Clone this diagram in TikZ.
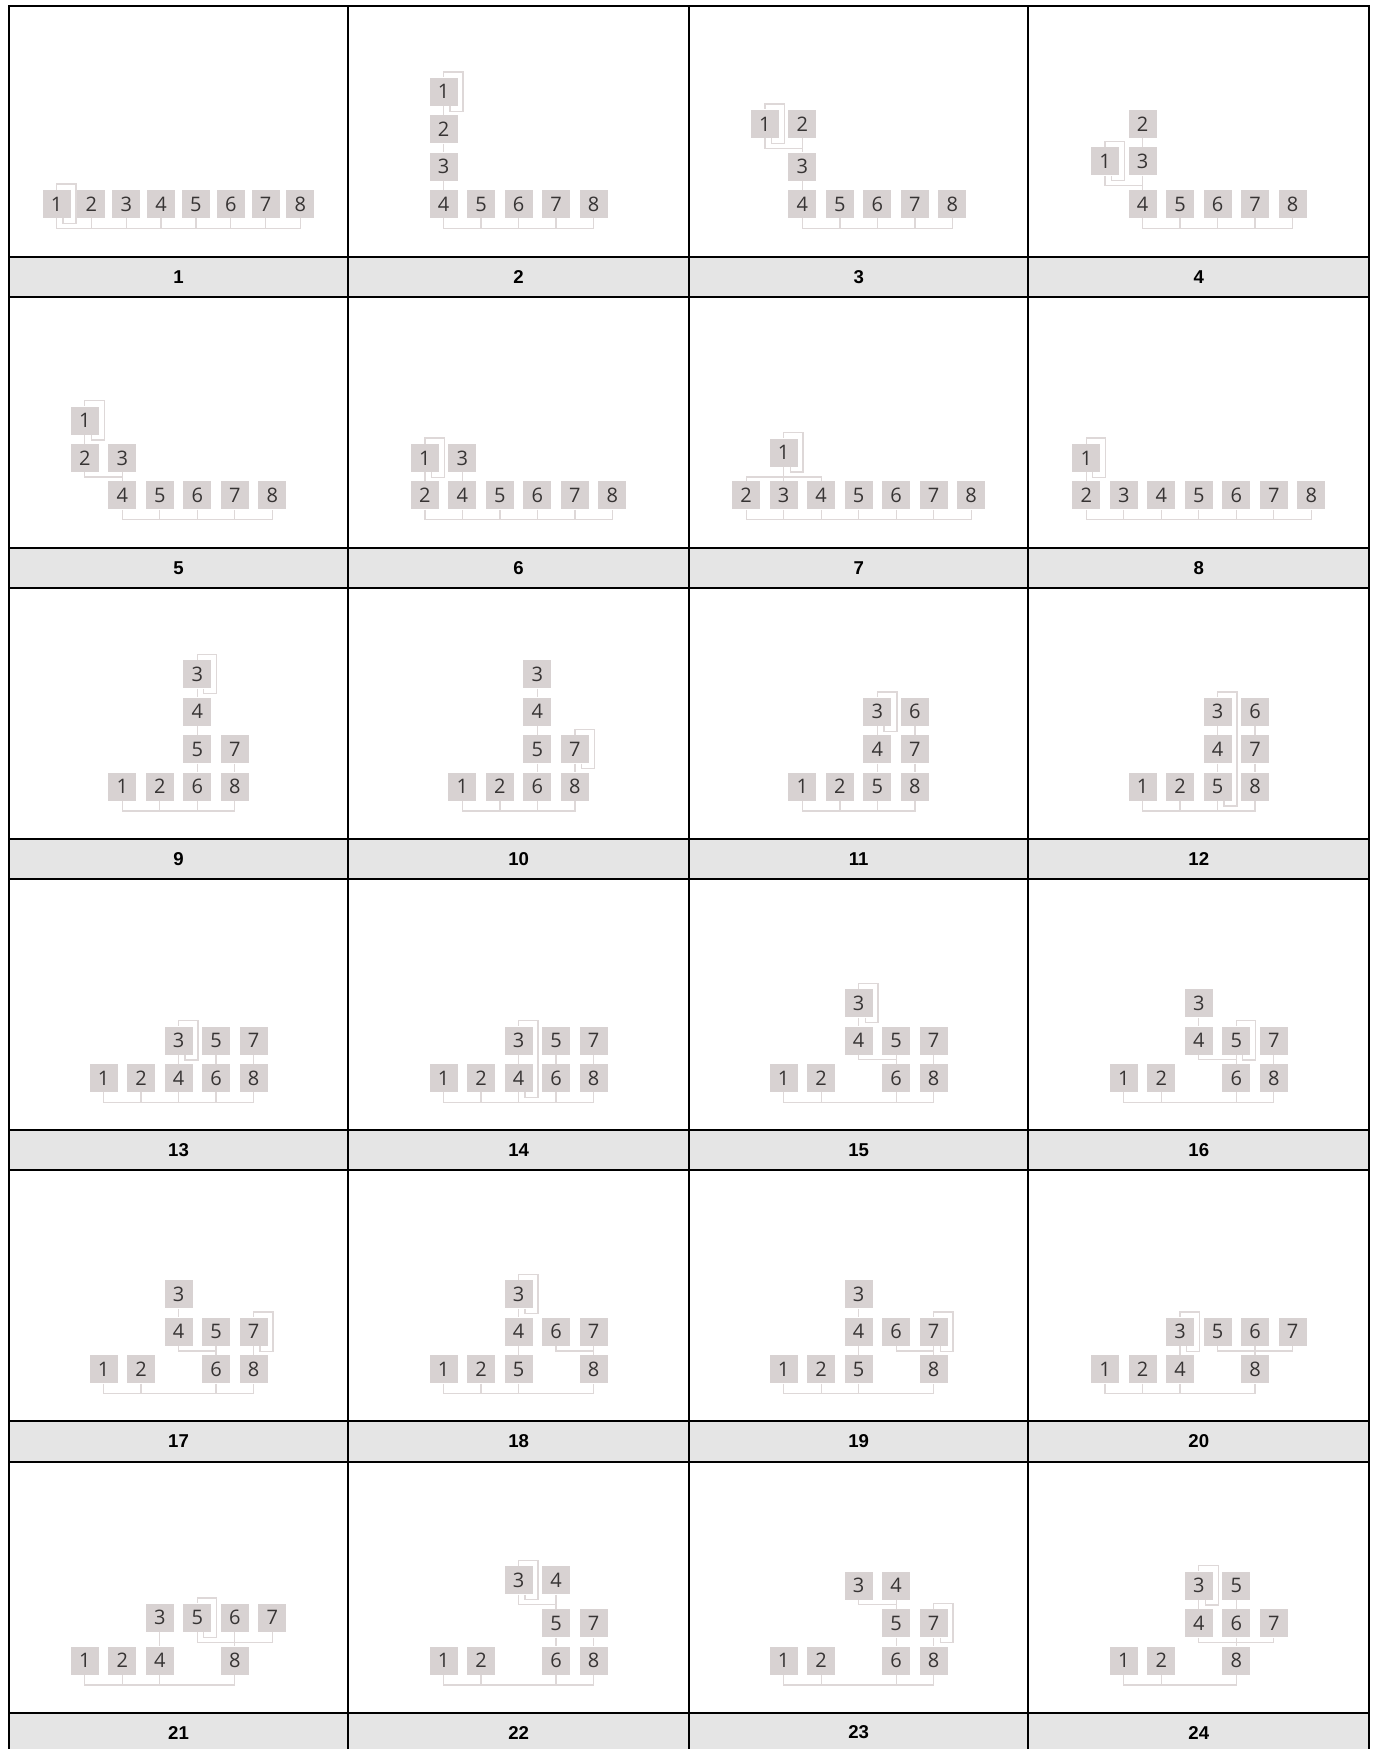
\documentclass[tikz,border=0pt]{standalone}
\usepackage{fontspec}
\setmainfont{Liberation Sans}
\newfontfamily\digitfont{Open Sans}
\usetikzlibrary{positioning, calc}
\definecolor{boxgrey}{RGB}{216, 210, 210}
\definecolor{digitgrey}{RGB}{55, 52, 52}
\definecolor{linkgrey}{RGB}{222, 216, 216}
\definecolor{capgrey}{RGB}{229, 229, 229}
\tikzset{
  blk/.style      = {rectangle, fill=boxgrey, minimum size=14pt, inner sep=0pt,
                     font=\digitfont\fontsize{10}{12}\selectfont, text=digitgrey},
  link/.style     = {draw=linkgrey, line width=0.65pt},
  loopln/.style   = {draw=linkgrey, line width=0.65pt},
  gridline/.style = {draw=black, line width=1pt},
  caplabel/.style = {font=\bfseries\fontsize{9.3}{11}\selectfont},
  cell/.style 2 args = {shift={({178.5+340.1*#1},{204+291.3*#2})}, x=18.75pt, y=18.7pt},
}
% boxes of one step: label/x/y
\newcommand{\placeboxes}[2]{\foreach \lab/\gx/\gy in {#2} {\node[blk] (s#1-\lab) at (\gx,\gy) {\lab};}}
\newcommand{\vlink}[2]{\draw[link] (#1.south) -- (#2.north);}
\newcommand{\llink}[3][2.35pt]{\draw[link] (#2.south) -- ++(0,-#1) -| (#3.north);}
\newcommand{\rootbus}[1]{\foreach \n [count=\i, remember=\n as \lastn] in {#1} {\ifnum\i>1 \draw[link] (\lastn.south) -- ++(0,-5pt) -| (\n.south);\fi}}
\newcommand{\selfloop}[2]{\draw[loopln] ([xshift=3.25pt]#2.south) -- ++(0,-2.5pt) -| ([xshift=2.5pt,yshift=2.75pt]#1.north east) -| (#1.north);}

\begin{document}
\begin{tikzpicture}[x=0.5pt, y=-0.5pt]
\useasboundingbox (0,0) rectangle (1377,1749);

% ==================== table ====================
\foreach \k in {0,...,5} {
  \fill[capgrey] (8.9,{257+291.1*\k}) rectangle (1369.3,{297.1+291.1*\k});
}
\draw[gridline] (8.9,6) rectangle (1369.3,1752.6);
\foreach \xx in {348.2,688.5,1027.7} \draw[gridline] (\xx,6) -- (\xx,1752.6);
\foreach \k in {1,...,5} \draw[gridline] (8.9,{6+291.1*\k}) -- (1369.3,{6+291.1*\k});
\foreach \k in {0,...,5} \draw[gridline] (8.9,{257+291.1*\k}) -- (1369.3,{257+291.1*\k});

\foreach \k in {0,...,5} {
  \foreach \j in {0,...,3} {
    \pgfmathtruncatemacro{\num}{4*\k+\j+1}
    \node[caplabel] (c\num) at ({178.5+340.1*\j},{277+291.1*\k}) {\num};
  }
}

% ==================== 1 ====================
\begin{scope}[cell={0}{0}, x=17.42pt]
  \placeboxes{1}{1/-3.5/0, 2/-2.5/0, 3/-1.5/0, 4/-0.5/0, 5/0.5/0, 6/1.5/0, 7/2.5/0, 8/3.5/0}
  \rootbus{s1-1,s1-2,s1-3,s1-4,s1-5,s1-6,s1-7,s1-8}
  \selfloop{s1-1}{s1-1}
\end{scope}

% ==================== 2 ====================
\begin{scope}[cell={1}{0}]
  \placeboxes{2}{1/-2/3, 2/-2/2, 3/-2/1, 4/-2/0, 5/-1/0, 6/0/0, 7/1/0, 8/2/0}
  \vlink{s2-1}{s2-2} \vlink{s2-2}{s2-3} \vlink{s2-3}{s2-4}
  \rootbus{s2-4,s2-5,s2-6,s2-7,s2-8}
  \selfloop{s2-1}{s2-1}
\end{scope}

% ==================== 3 ====================
\begin{scope}[cell={2}{0}]
  \placeboxes{3}{1/-2.5/2.142, 2/-1.5/2.142, 3/-1.5/1, 4/-1.5/0, 5/-0.5/0, 6/0.5/0, 7/1.5/0, 8/2.5/0}
  \llink[5pt]{s3-1}{s3-3} \vlink{s3-2}{s3-3} \vlink{s3-3}{s3-4}
  \rootbus{s3-4,s3-5,s3-6,s3-7,s3-8}
  \selfloop{s3-1}{s3-1}
\end{scope}

% ==================== 4 ====================
\begin{scope}[cell={3}{0}]
  \placeboxes{4}{2/-1.5/2.142, 1/-2.5/1.142, 3/-1.5/1.142, 4/-1.5/0, 5/-0.5/0, 6/0.5/0, 7/1.5/0, 8/2.5/0}
  \vlink{s4-2}{s4-3} \vlink{s4-3}{s4-4} \llink[5pt]{s4-1}{s4-4}
  \rootbus{s4-4,s4-5,s4-6,s4-7,s4-8}
  \selfloop{s4-1}{s4-1}
\end{scope}

% ==================== 5 ====================
\begin{scope}[cell={0}{1}]
  \placeboxes{5}{1/-2.5/2, 2/-2.5/1, 3/-1.5/1, 4/-1.5/0, 5/-0.5/0, 6/0.5/0, 7/1.5/0, 8/2.5/0}
  \vlink{s5-1}{s5-2} \llink{s5-2}{s5-4} \vlink{s5-3}{s5-4}
  \rootbus{s5-4,s5-5,s5-6,s5-7,s5-8}
  \selfloop{s5-1}{s5-1}
\end{scope}

% ==================== 6 ====================
\begin{scope}[cell={1}{1}]
  \placeboxes{6}{1/-2.5/1, 3/-1.5/1, 2/-2.5/0, 4/-1.5/0, 5/-0.5/0, 6/0.5/0, 7/1.5/0, 8/2.5/0}
  \vlink{s6-1}{s6-2} \vlink{s6-3}{s6-4}
  \rootbus{s6-2,s6-4,s6-5,s6-6,s6-7,s6-8}
  \selfloop{s6-1}{s6-1}
\end{scope}

% ==================== 7 ====================
\begin{scope}[cell={2}{1}]
  \placeboxes{7}{1/-2/1.142, 2/-3/0, 3/-2/0, 4/-1/0, 5/0/0, 6/1/0, 7/2/0, 8/3/0}
  \llink[5pt]{s7-1}{s7-2} \vlink{s7-1}{s7-3} \llink[5pt]{s7-1}{s7-4}
  \rootbus{s7-2,s7-3,s7-4,s7-5,s7-6,s7-7,s7-8}
  \selfloop{s7-1}{s7-1}
\end{scope}

% ==================== 8 ====================
\begin{scope}[cell={3}{1}]
  \placeboxes{8}{1/-3/1, 2/-3/0, 3/-2/0, 4/-1/0, 5/0/0, 6/1/0, 7/2/0, 8/3/0}
  \vlink{s8-1}{s8-2}
  \rootbus{s8-2,s8-3,s8-4,s8-5,s8-6,s8-7,s8-8}
  \selfloop{s8-1}{s8-1}
\end{scope}

% ==================== 9 ====================
\begin{scope}[cell={0}{2}]
  \placeboxes{9}{1/-1.5/0, 2/-0.5/0, 6/0.5/0, 8/1.5/0, 5/0.5/1, 7/1.5/1, 4/0.5/2, 3/0.5/3}
  \vlink{s9-3}{s9-4} \vlink{s9-4}{s9-5} \vlink{s9-5}{s9-6} \vlink{s9-7}{s9-8}
  \rootbus{s9-1,s9-2,s9-6,s9-8}
  \selfloop{s9-3}{s9-3}
\end{scope}

% ==================== 10 ====================
\begin{scope}[cell={1}{2}]
  \placeboxes{10}{1/-1.5/0, 2/-0.5/0, 6/0.5/0, 8/1.5/0, 5/0.5/1, 7/1.5/1, 4/0.5/2, 3/0.5/3}
  \vlink{s10-3}{s10-4} \vlink{s10-4}{s10-5} \vlink{s10-5}{s10-6} \vlink{s10-7}{s10-8}
  \rootbus{s10-1,s10-2,s10-6,s10-8}
  \selfloop{s10-7}{s10-7}
\end{scope}

% ==================== 11 ====================
\begin{scope}[cell={2}{2}]
  \placeboxes{11}{1/-1.5/0, 2/-0.5/0, 5/0.5/0, 8/1.5/0, 4/0.5/1, 7/1.5/1, 3/0.5/2, 6/1.5/2}
  \vlink{s11-3}{s11-4} \vlink{s11-4}{s11-5} \vlink{s11-6}{s11-7} \vlink{s11-7}{s11-8}
  \rootbus{s11-1,s11-2,s11-5,s11-8}
  \selfloop{s11-3}{s11-3}
\end{scope}

% ==================== 12 ====================
\begin{scope}[cell={3}{2}]
  \placeboxes{12}{1/-1.5/0, 2/-0.5/0, 5/0.5/0, 8/1.5/0, 4/0.5/1, 7/1.5/1, 3/0.5/2, 6/1.5/2}
  \vlink{s12-3}{s12-4} \vlink{s12-4}{s12-5} \vlink{s12-6}{s12-7} \vlink{s12-7}{s12-8}
  \rootbus{s12-1,s12-2,s12-5,s12-8}
  \selfloop{s12-3}{s12-5}
\end{scope}

% ==================== 13 ====================
\begin{scope}[cell={0}{3}]
  \placeboxes{13}{1/-2/0, 2/-1/0, 4/0/0, 6/1/0, 8/2/0, 3/0/1, 5/1/1, 7/2/1}
  \vlink{s13-3}{s13-4} \vlink{s13-5}{s13-6} \vlink{s13-7}{s13-8}
  \rootbus{s13-1,s13-2,s13-4,s13-6,s13-8}
  \selfloop{s13-3}{s13-3}
\end{scope}

% ==================== 14 ====================
\begin{scope}[cell={1}{3}]
  \placeboxes{14}{1/-2/0, 2/-1/0, 4/0/0, 6/1/0, 8/2/0, 3/0/1, 5/1/1, 7/2/1}
  \vlink{s14-3}{s14-4} \vlink{s14-5}{s14-6} \vlink{s14-7}{s14-8}
  \rootbus{s14-1,s14-2,s14-4,s14-6,s14-8}
  \selfloop{s14-3}{s14-4}
\end{scope}

% ==================== 15 ====================
\begin{scope}[cell={2}{3}]
  \placeboxes{15}{1/-2/0, 2/-1/0, 6/1/0, 8/2/0, 4/0/1, 5/1/1, 7/2/1, 3/0/2}
  \vlink{s15-3}{s15-4} \llink{s15-4}{s15-6} \vlink{s15-5}{s15-6} \vlink{s15-7}{s15-8}
  \rootbus{s15-1,s15-2,s15-6,s15-8}
  \selfloop{s15-3}{s15-3}
\end{scope}

% ==================== 16 ====================
\begin{scope}[cell={3}{3}]
  \placeboxes{16}{1/-2/0, 2/-1/0, 6/1/0, 8/2/0, 4/0/1, 5/1/1, 7/2/1, 3/0/2}
  \vlink{s16-3}{s16-4} \llink{s16-4}{s16-6} \vlink{s16-5}{s16-6} \vlink{s16-7}{s16-8}
  \rootbus{s16-1,s16-2,s16-6,s16-8}
  \selfloop{s16-5}{s16-5}
\end{scope}

% ==================== 17 ====================
\begin{scope}[cell={0}{4}]
  \placeboxes{17}{1/-2/0, 2/-1/0, 6/1/0, 8/2/0, 4/0/1, 5/1/1, 7/2/1, 3/0/2}
  \vlink{s17-3}{s17-4} \llink{s17-4}{s17-6} \vlink{s17-5}{s17-6} \vlink{s17-7}{s17-8}
  \rootbus{s17-1,s17-2,s17-6,s17-8}
  \selfloop{s17-7}{s17-7}
\end{scope}

% ==================== 18 ====================
\begin{scope}[cell={1}{4}]
  \placeboxes{18}{1/-2/0, 2/-1/0, 5/0/0, 8/2/0, 4/0/1, 6/1/1, 7/2/1, 3/0/2}
  \vlink{s18-3}{s18-4} \vlink{s18-4}{s18-5} \llink{s18-6}{s18-8} \vlink{s18-7}{s18-8}
  \rootbus{s18-1,s18-2,s18-5,s18-8}
  \selfloop{s18-3}{s18-3}
\end{scope}

% ==================== 19 ====================
\begin{scope}[cell={2}{4}]
  \placeboxes{19}{1/-2/0, 2/-1/0, 5/0/0, 8/2/0, 4/0/1, 6/1/1, 7/2/1, 3/0/2}
  \vlink{s19-3}{s19-4} \vlink{s19-4}{s19-5} \llink{s19-6}{s19-8} \vlink{s19-7}{s19-8}
  \rootbus{s19-1,s19-2,s19-5,s19-8}
  \selfloop{s19-7}{s19-7}
\end{scope}

% ==================== 20 ====================
\begin{scope}[cell={3}{4}]
  \placeboxes{20}{1/-2.5/0, 2/-1.5/0, 4/-0.5/0, 8/1.5/0, 3/-0.5/1, 5/0.5/1, 6/1.5/1, 7/2.5/1}
  \vlink{s20-3}{s20-4} \llink{s20-5}{s20-8} \vlink{s20-6}{s20-8} \llink{s20-7}{s20-8}
  \rootbus{s20-1,s20-2,s20-4,s20-8}
  \selfloop{s20-3}{s20-3}
\end{scope}

% ==================== 21 ====================
\begin{scope}[cell={0}{5}]
  \placeboxes{21}{1/-2.5/0, 2/-1.5/0, 4/-0.5/0, 8/1.5/0, 3/-0.5/1.142, 5/0.5/1.142, 6/1.5/1.142, 7/2.5/1.142}
  \vlink{s21-3}{s21-4} \llink[5pt]{s21-5}{s21-8} \vlink{s21-6}{s21-8} \llink[5pt]{s21-7}{s21-8}
  \rootbus{s21-1,s21-2,s21-4,s21-8}
  \selfloop{s21-5}{s21-5}
\end{scope}

% ==================== 22 ====================
\begin{scope}[cell={1}{5}]
  \placeboxes{22}{1/-2/0, 2/-1/0, 6/1/0, 8/2/0, 5/1/1, 7/2/1, 3/0/2.142, 4/1/2.142}
  \llink[5pt]{s22-3}{s22-5} \vlink{s22-4}{s22-5} \vlink{s22-5}{s22-6} \vlink{s22-7}{s22-8}
  \rootbus{s22-1,s22-2,s22-6,s22-8}
  \selfloop{s22-3}{s22-3}
\end{scope}

% ==================== 23 ====================
\begin{scope}[cell={2}{5}]
  \placeboxes{23}{1/-2/0, 2/-1/0, 6/1/0, 8/2/0, 5/1/1, 7/2/1, 3/0/2, 4/1/2}
  \llink{s23-3}{s23-5} \vlink{s23-4}{s23-5} \vlink{s23-5}{s23-6} \vlink{s23-7}{s23-8}
  \rootbus{s23-1,s23-2,s23-6,s23-8}
  \selfloop{s23-7}{s23-7}
\end{scope}

% ==================== 24 ====================
\begin{scope}[cell={3}{5}]
  \placeboxes{24}{1/-2/0, 2/-1/0, 8/1/0, 4/0/1, 6/1/1, 7/2/1, 3/0/2, 5/1/2}
  \vlink{s24-3}{s24-4} \vlink{s24-5}{s24-6} \llink{s24-4}{s24-8} \vlink{s24-6}{s24-8} \llink{s24-7}{s24-8}
  \rootbus{s24-1,s24-2,s24-8}
  \selfloop{s24-3}{s24-3}
\end{scope}

\end{tikzpicture}
\end{document}
